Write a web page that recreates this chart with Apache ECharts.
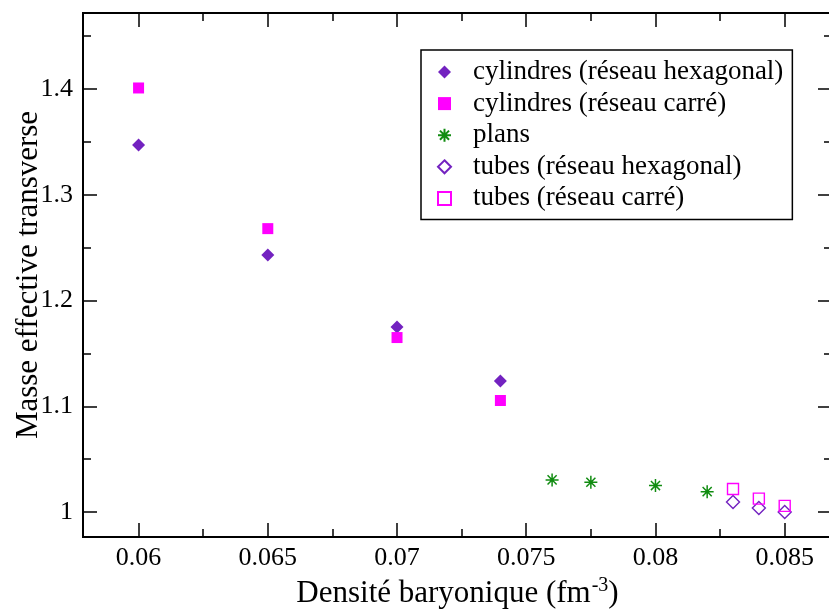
<!DOCTYPE html>
<html>
<head>
<meta charset="utf-8">
<script src="https://cdn.jsdelivr.net/npm/echarts@6/dist/echarts.min.js"></script>
<style>
html,body{margin:0;padding:0;background:#fff;}
#Charts1{width:829px;height:614px;}
</style>
</head>
<body>
<div id="Charts1"></div>
<script>
// données
var cylHexX = [0.06, 0.065, 0.07, 0.074];
var cylHexY = [1.347, 1.243, 1.175, 1.124];
var cylCarX = [0.06, 0.065, 0.07, 0.074];
var cylCarY = [1.401, 1.268, 1.165, 1.1055];
var plansX = [0.076, 0.0775, 0.08, 0.082];
var plansY = [1.0304, 1.0282, 1.025, 1.0193];
var tubHexX = [0.083, 0.084, 0.085];
var tubHexY = [1.0096, 1.0039, 1.0001];
var tubCarX = [0.083, 0.084, 0.085];
var tubCarY = [1.0218, 1.0127, 1.0058];

var xTicks = [0.06, 0.065, 0.07, 0.075, 0.08, 0.085];
var xMinor = [0.0625, 0.0675, 0.0725, 0.0775, 0.0825];
var yTicks = [1, 1.1, 1.2, 1.3, 1.4];
var yMinor = [1.05, 1.15, 1.25, 1.35, 1.45];

var XMIN = 0.05785, XMAX = 0.08683, YMIN = 0.9764, YMAX = 1.4719;

function pts(xs, ys){
	var r = [];
	for (var i = 0; i < xs.length; i++) r.push([xs[i], ys[i]]);
	return r;
}
function fmt(v){ return String(+(+v).toFixed(4)); }

var serif = 'Liberation Serif';
var violet = '#7322c0', magenta = '#ff00ff', vert = '#118c11';
var etoile = 'path://M0,6L12,6M6,0L6,12M1.8,1.8L10.2,10.2M1.8,10.2L10.2,1.8';

// un axe "decor" = ticks seulement
function decoX(pos, vals, len, line){
	return {type:'value', position:pos, min:XMIN, max:XMAX, gridIndex:0,
		axisLine:{show:line, lineStyle:{color:'#000', width:2}},
		axisTick:{show:true, inside:true, length:len, customValues:vals, lineStyle:{color:'#000', width:1.5}},
		axisLabel:{show:false}, splitLine:{show:false}};
}
function decoY(pos, vals, len, line){
	return {type:'value', position:pos, min:YMIN, max:YMAX, gridIndex:0,
		axisLine:{show:line, lineStyle:{color:'#000', width:2}},
		axisTick:{show:true, inside:true, length:len, customValues:vals, lineStyle:{color:'#000', width:1.5}},
		axisLabel:{show:false}, splitLine:{show:false}};
}

var myChart = echarts.init(document.getElementById('Charts1'));
var option = {
	backgroundColor:'#fff',
	animation:false,
	grid:{left:83, top:13, right:-3, bottom:77, show:true, borderColor:'#000', borderWidth:2,
		containLabel:false, outerBoundsMode:'none'},
	legend:{
		orient:'vertical', left:421, top:50,
		backgroundColor:'#fff', borderColor:'#000', borderWidth:1.5,
		padding:[8, 9, 7, 16],
		itemWidth:13, itemHeight:13, itemGap:3.6,
		textStyle:{fontFamily:serif, fontSize:27, color:'#000', lineHeight:28, padding:[0,0,0,17]},
		data:['cylindres (réseau hexagonal)','cylindres (réseau carré)','plans','tubes (réseau hexagonal)','tubes (réseau carré)']
	},
	xAxis:[
		{type:'value', position:'bottom', min:XMIN, max:XMAX,
			name:'{a|Densité baryonique (fm}{s|-3}{a|)}', nameLocation:'middle', nameGap:39, nameMoveOverlap:false,
			nameTextStyle:{rich:{
				a:{fontFamily:serif, fontSize:31, color:'#000'},
				s:{fontFamily:serif, fontSize:20, color:'#000', verticalAlign:'top', padding:[0,0,16,1]}
			}},
			axisLine:{show:true, lineStyle:{color:'#000', width:2}},
			axisTick:{show:true, inside:true, length:14, customValues:xTicks, lineStyle:{color:'#000', width:1.5}},
			axisLabel:{customValues:xTicks, formatter:fmt, fontFamily:serif, fontSize:26, color:'#000', margin:8},
			splitLine:{show:false}},
		decoX('bottom', xMinor, 8, false),
		decoX('top', xTicks, 14, true),
		decoX('top', xMinor, 8, false)
	],
	yAxis:[
		{type:'value', position:'left', min:YMIN, max:YMAX,
			name:'Masse effective transverse', nameLocation:'middle', nameGap:39, nameMoveOverlap:false,
			nameTextStyle:{fontFamily:serif, fontSize:31, color:'#000'},
			axisLine:{show:true, lineStyle:{color:'#000', width:2}},
			axisTick:{show:true, inside:true, length:14, customValues:yTicks, lineStyle:{color:'#000', width:1.5}},
			axisLabel:{customValues:yTicks, formatter:fmt, fontFamily:serif, fontSize:26, color:'#000', margin:10},
			splitLine:{show:false}},
		decoY('left', yMinor, 8, false),
		decoY('right', yTicks, 14, true),
		decoY('right', yMinor, 8, false)
	],
	series:[
		{name:'cylindres (réseau hexagonal)', type:'scatter', symbol:'diamond', symbolSize:13,
			itemStyle:{color:violet, opacity:1}, data:pts(cylHexX, cylHexY)},
		{name:'cylindres (réseau carré)', type:'scatter', symbol:'rect', symbolSize:11,
			itemStyle:{color:magenta, opacity:1}, data:pts(cylCarX, cylCarY)},
		{name:'plans', type:'scatter', symbol:etoile, symbolSize:13,
			itemStyle:{color:vert, borderColor:vert, borderWidth:1.5, opacity:1}, data:pts(plansX, plansY)},
		{name:'tubes (réseau hexagonal)', type:'scatter', symbol:'diamond', symbolSize:13,
			itemStyle:{color:'rgba(255,255,255,0)', borderColor:violet, borderWidth:1.4, opacity:1}, data:pts(tubHexX, tubHexY)},
		{name:'tubes (réseau carré)', type:'scatter', symbol:'rect', symbolSize:11,
			itemStyle:{color:'rgba(255,255,255,0)', borderColor:magenta, borderWidth:1.4, opacity:1}, data:pts(tubCarX, tubCarY)}
	]
};
myChart.setOption(option);
</script>
</body>
</html>
